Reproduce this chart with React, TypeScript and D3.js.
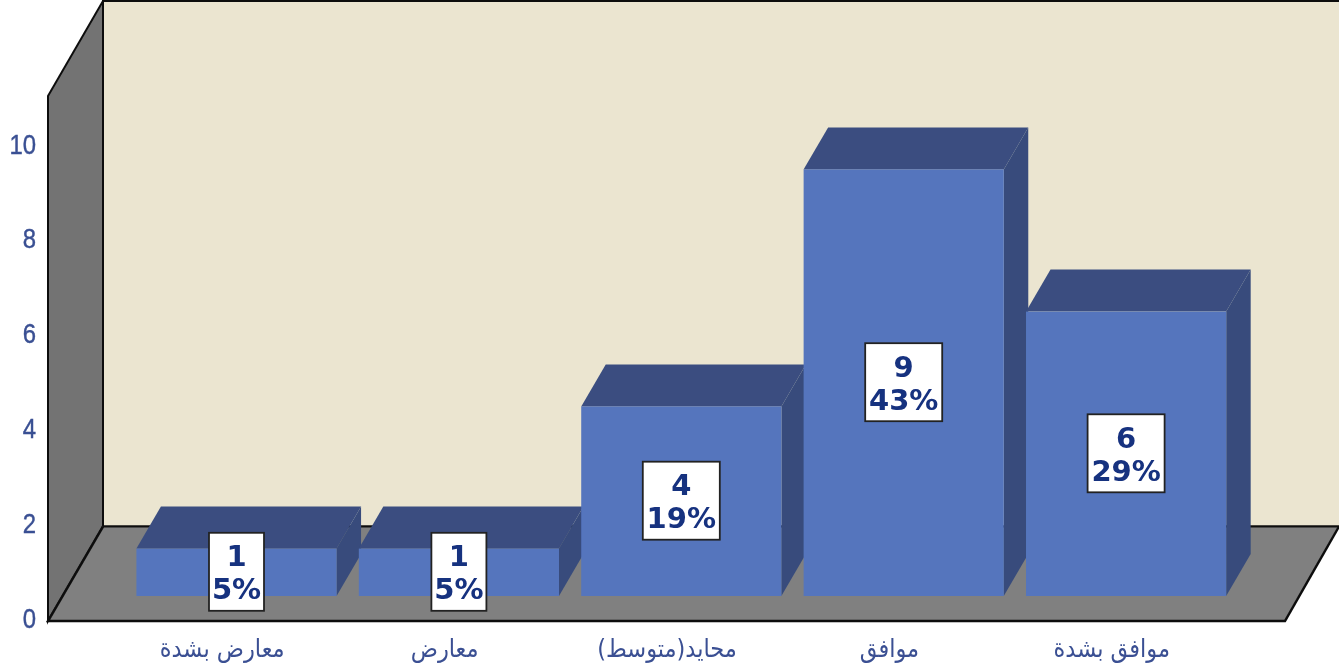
import React from "react";
import * as d3 from "d3";

const categories = ["معارض بشدة", "معارض", "محايد(متوسط)", "موافق", "موافق بشدة"];
const counts = [1, 1, 4, 9, 6];
const percents = ["5%", "5%", "19%", "43%", "29%"];
const yTicks = [0, 2, 4, 6, 8, 10];

const W = 1339, H = 670;
const DX = 55, DY = 94.5;
const barDX = 24.5, barDY = 42;
const x0 = 48, x1 = 1285, yBase = 621;
const y = d3.scaleLinear().domain([0, 11]).range([618, 96.6]);
const x = d3.scaleBand<string>().domain(categories).range([111, 1223]).paddingInner(0.1).paddingOuter(0.05);
const unit = y(0) - y(1);
const barBase = 596;
const barShift = 14.3;

const poly = (pts: [number, number][]) => d3.line()(pts) + "Z";
const blue = "#5475BD", dark = "#3A4E80", side = "#374C7C";
const labelBlue = "#3A5093", valueBlue = "#16307F";

export default function App() {
  const bw = x.bandwidth();
  return (
    <svg width={W} height={H} viewBox={`0 0 ${W} ${H}`} style={{ position: "absolute", left: 0, top: 0, background: "#fff" }}>
      <defs>
        <filter id="soft" filterUnits="userSpaceOnUse" x="0" y="0" width={W} height={H}>
          <feGaussianBlur stdDeviation="0.45" />
        </filter>
      </defs>
      <g filter="url(#soft)">
        <path d={poly([[x0 + DX, 1], [W + 5, 1], [W + 5, yBase - DY], [x0 + DX, yBase - DY]])} fill="#EBE5D0" stroke="#111" strokeWidth={2} />
        <path d={poly([[x0, 96], [x0 + DX, 1], [x0 + DX, yBase - DY], [x0, yBase]])} fill="#737373" stroke="#111" strokeWidth={2} />
        <path d={poly([[x0, yBase], [x0 + DX, yBase - DY], [W, yBase - DY], [x1, yBase]])} fill="#808080" stroke="none" />
        <path d={`M${x0 + DX},${yBase - DY}H${W}`} stroke="#111" strokeWidth={2} fill="none" />
        <path d={`M${W},${yBase - DY}L${x1},${yBase}H${x0}L${x0 + DX},${yBase - DY}`} stroke="#111" strokeWidth={2.5} fill="none" />

        {categories.map((c, i) => {
          const left = (x(c) as number) + barShift;
          const right = left + bw;
          const top = barBase - counts[i] * unit;
          return (
            <g key={c}>
              <path d={poly([[left, top], [left + barDX, top - barDY], [right + barDX, top - barDY], [right, top]])} fill={dark} />
              <path d={poly([[right, top], [right + barDX, top - barDY], [right + barDX, barBase - barDY], [right, barBase]])} fill={side} />
              <rect x={left} y={top} width={bw} height={barBase - top} fill={blue} />
            </g>
          );
        })}

        {categories.map((c, i) => {
          const cx = (x(c) as number) + barShift + bw / 2;
          const top = barBase - counts[i] * unit;
          const cy = (top + barBase) / 2;
          const w = percents[i].length === 2 ? 55 : 77;
          return (
            <g key={c}>
              <rect x={cx - w / 2} y={cy - 39.5} width={w} height={78} fill="#fff" stroke="#222" strokeWidth={1.8} />
              <text x={cx} y={cy - 6} textAnchor="middle" fontFamily="'DejaVu Sans'" fontWeight={700} fontSize={29} fill={valueBlue}>{counts[i]}</text>
              <text x={cx} y={cy + 27} textAnchor="middle" fontFamily="'DejaVu Sans'" fontWeight={700} fontSize={29} fill={valueBlue}>{percents[i]}</text>
            </g>
          );
        })}

        {yTicks.map((t) => (
          <text key={t} transform={`translate(36,${y(t) + 9.5}) scale(0.92,1.05)`} textAnchor="end" fontFamily="'Liberation Sans'" fontSize={26} fill={labelBlue} stroke={labelBlue} strokeWidth={0.4}>{t}</text>
        ))}

        {categories.map((c) => (
          <text key={c} x={(x(c) as number) + bw / 2} y={657} textAnchor="middle" direction="rtl" fontFamily="'DejaVu Sans Condensed','DejaVu Sans'" fontSize={25} fill={labelBlue}>{c}</text>
        ))}
      </g>
    </svg>
  );
}
